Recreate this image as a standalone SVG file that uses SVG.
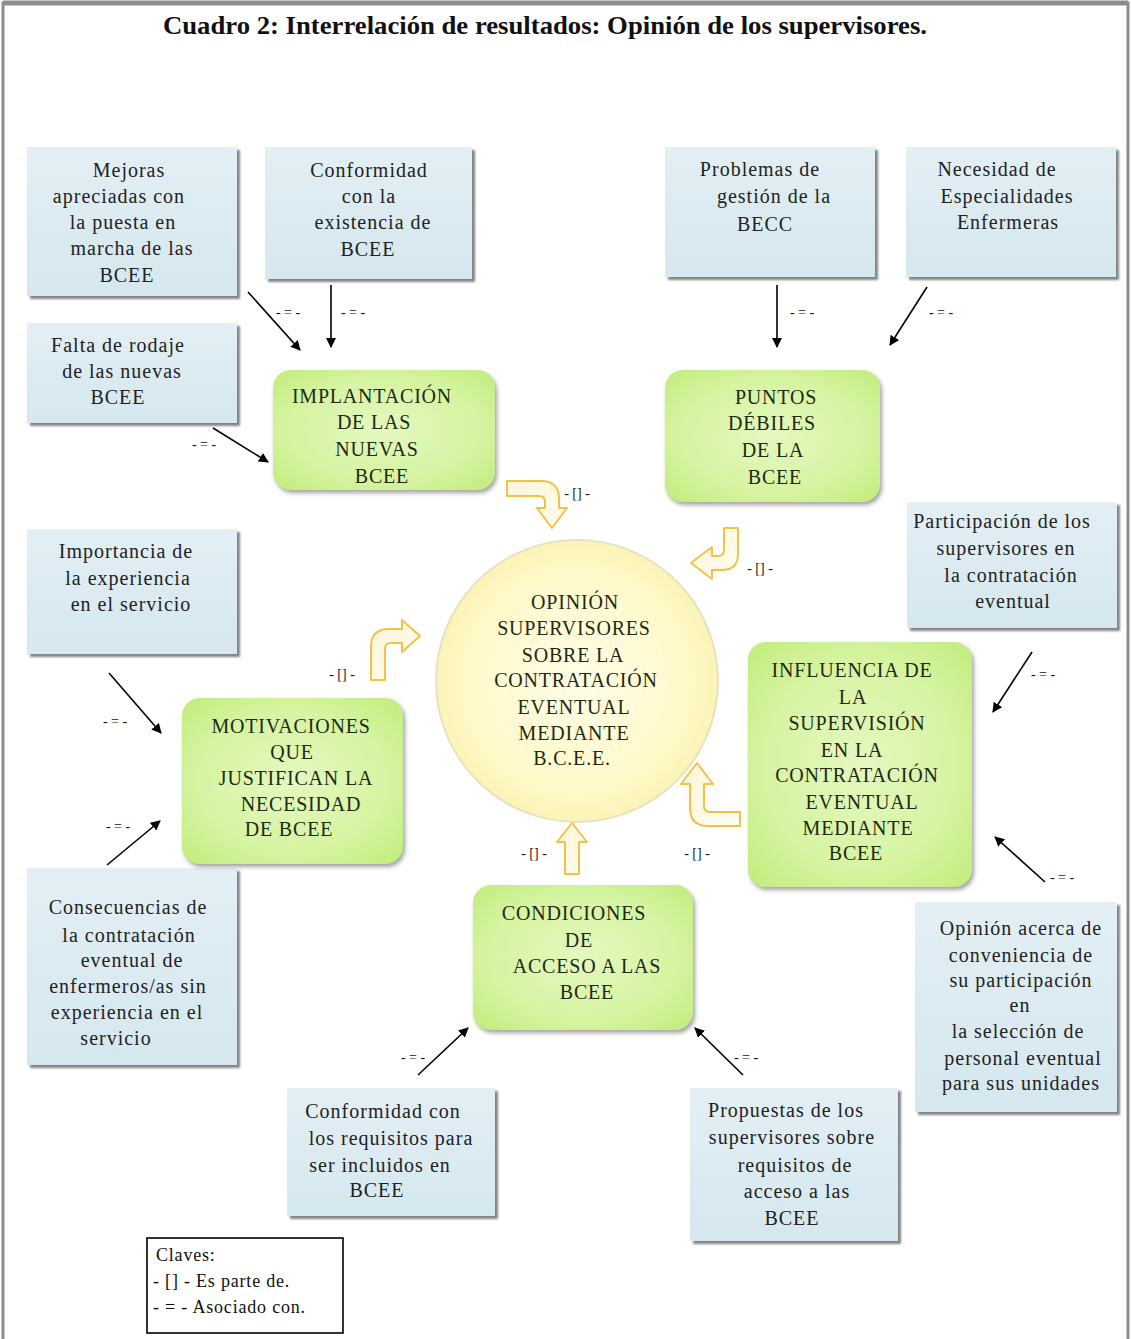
<svg xmlns="http://www.w3.org/2000/svg" width="1131" height="1339" viewBox="0 0 1131 1339">
<defs>
<linearGradient id="blueFill" x1="0" y1="0" x2="0" y2="1">
<stop offset="0" stop-color="#e3eff5"/>
<stop offset="1" stop-color="#d5e7ef"/>
</linearGradient>
<radialGradient id="greenFill" cx="0.5" cy="0.5" r="0.7">
<stop offset="0" stop-color="#e4f8c0"/>
<stop offset="0.6" stop-color="#d6f4a2"/>
<stop offset="1" stop-color="#c2ec7c"/>
</radialGradient>
<radialGradient id="circFill" cx="0.5" cy="0.5" r="0.5">
<stop offset="0" stop-color="#fffde8"/>
<stop offset="0.8" stop-color="#fff9c8"/>
<stop offset="1" stop-color="#fbf3b6"/>
</radialGradient>
<linearGradient id="yelFill" x1="0" y1="0" x2="1" y2="1">
<stop offset="0" stop-color="#fff6d8"/>
<stop offset="1" stop-color="#fffdf2"/>
</linearGradient>
<filter id="sh" x="-10%" y="-10%" width="125%" height="125%">
<feDropShadow dx="3" dy="3" stdDeviation="1.2" flood-color="#6e6e6e" flood-opacity="0.85"/>
</filter>
<filter id="shg" x="-10%" y="-10%" width="125%" height="125%">
<feDropShadow dx="2" dy="3" stdDeviation="2" flood-color="#7a7a7a" flood-opacity="0.7"/>
</filter>
<marker id="ah" viewBox="0 0 10 10" refX="9" refY="5" markerWidth="10" markerHeight="10" markerUnits="userSpaceOnUse" orient="auto">
<path d="M0,0 L10,5 L0,10 Z" fill="#000"/>
</marker>
</defs>
<style>
.t{font-family:"Liberation Serif","Times New Roman",serif;font-size:20px;letter-spacing:1px;fill:#222;text-anchor:middle}
.c{font-family:"Liberation Serif","Times New Roman",serif;font-size:20px;letter-spacing:0.8px;fill:#1e2a10;text-anchor:middle}
.l{font-family:"Liberation Serif","Times New Roman",serif;font-size:14px;fill:#111;text-anchor:middle}
.k{font-family:"Liberation Serif","Times New Roman",serif;font-size:18px;letter-spacing:0.8px;fill:#111}
.ttl{font-family:"Liberation Serif","Times New Roman",serif;font-size:25px;font-weight:bold;fill:#111}
.bx{fill:url(#blueFill);filter:url(#sh)}
.gb{fill:url(#greenFill);filter:url(#shg)}
.ln{stroke:#000;stroke-width:1.6;fill:none;marker-end:url(#ah)}
.ya{fill:url(#yelFill);stroke:#f1c24a;stroke-width:2;stroke-linejoin:round}
</style>
<rect x="0" y="0" width="1131" height="1339" fill="#fff"/>
<path d="M3,1339 V3 H1128 V1339" fill="none" stroke="#8c8c8c" stroke-width="3"/>
<line x1="3" y1="3" x2="1128" y2="3" stroke="#8c8c8c" stroke-width="5"/>
<text class="ttl" x="163" y="34" textLength="764" lengthAdjust="spacingAndGlyphs">Cuadro 2: Interrelación de resultados: Opinión de los supervisores.</text>

<g id="mejoras">
<rect class="bx" x="27" y="147" width="210" height="149"/>
<text class="t"><tspan x="129" y="177">Mejoras</tspan><tspan x="119" y="203">apreciadas con</tspan><tspan x="123" y="229">la puesta en</tspan><tspan x="132" y="255">marcha de las</tspan><tspan x="127" y="282">BCEE</tspan></text>
</g>
<g id="conformidad">
<rect class="bx" x="265" y="147" width="207" height="132"/>
<text class="t"><tspan x="369" y="177">Conformidad</tspan><tspan x="369" y="203">con la</tspan><tspan x="373" y="229">existencia de</tspan><tspan x="368" y="256">BCEE</tspan></text>
</g>
<g id="falta">
<rect class="bx" x="27" y="323" width="210" height="100"/>
<text class="t"><tspan x="118" y="352">Falta de rodaje</tspan><tspan x="122" y="378">de las nuevas</tspan><tspan x="118" y="404">BCEE</tspan></text>
</g>
<g id="problemas">
<rect class="bx" x="665" y="147" width="210" height="130"/>
<text class="t"><tspan x="760" y="176">Problemas de</tspan><tspan x="774" y="203">gestión de la</tspan><tspan x="765" y="231">BECC</tspan></text>
</g>
<g id="necesidad">
<rect class="bx" x="906" y="147" width="210" height="130"/>
<text class="t"><tspan x="997" y="176">Necesidad de</tspan><tspan x="1007" y="203">Especialidades</tspan><tspan x="1008" y="229">Enfermeras</tspan></text>
</g>
<g id="participacion">
<rect class="bx" x="907" y="502" width="210" height="126"/>
<text class="t"><tspan x="1002" y="528">Participación de los</tspan><tspan x="1006" y="555">supervisores en</tspan><tspan x="1011" y="582">la contratación</tspan><tspan x="1013" y="608">eventual</tspan></text>
</g>
<g id="importancia">
<rect class="bx" x="27" y="529" width="210" height="125"/>
<text class="t"><tspan x="126" y="558">Importancia de</tspan><tspan x="128" y="585">la experiencia</tspan><tspan x="131" y="611">en el servicio</tspan></text>
</g>
<g id="consecuencias">
<rect class="bx" x="27" y="868" width="210" height="197"/>
<text class="t"><tspan x="128" y="914">Consecuencias de</tspan><tspan x="129" y="942">la contratación</tspan><tspan x="132" y="967">eventual de</tspan><tspan x="128" y="993">enfermeros/as sin</tspan><tspan x="127" y="1019">experiencia en el</tspan><tspan x="116" y="1045">servicio</tspan></text>
</g>
<g id="opinion-acerca">
<rect class="bx" x="915" y="902" width="202" height="210"/>
<text class="t"><tspan x="1021" y="935">Opinión acerca de</tspan><tspan x="1021" y="962">conveniencia de</tspan><tspan x="1021" y="987">su participación</tspan><tspan x="1020" y="1012">en</tspan><tspan x="1018" y="1038">la selección de</tspan><tspan x="1023" y="1065">personal eventual</tspan><tspan x="1021" y="1090">para sus unidades</tspan></text>
</g>
<g id="conformidad-requisitos">
<rect class="bx" x="287" y="1088" width="208" height="128"/>
<text class="t"><tspan x="383" y="1118">Conformidad con</tspan><tspan x="391" y="1145">los requisitos para</tspan><tspan x="380" y="1172">ser incluidos en</tspan><tspan x="377" y="1197">BCEE</tspan></text>
</g>
<g id="propuestas">
<rect class="bx" x="690" y="1088" width="208" height="153"/>
<text class="t"><tspan x="786" y="1117">Propuestas de los</tspan><tspan x="792" y="1144">supervisores sobre</tspan><tspan x="795" y="1172">requisitos de</tspan><tspan x="797" y="1198">acceso a las</tspan><tspan x="792" y="1225">BCEE</tspan></text>
</g>

<g id="implantacion">
<rect class="gb" x="273" y="370" width="222" height="120" rx="18"/>
<text class="c"><tspan x="372" y="403">IMPLANTACIÓN</tspan><tspan x="374" y="429">DE LAS</tspan><tspan x="377" y="456">NUEVAS</tspan><tspan x="382" y="483">BCEE</tspan></text>
</g>
<g id="puntos-debiles">
<rect class="gb" x="665" y="370" width="215" height="132" rx="18"/>
<text class="c"><tspan x="776" y="404">PUNTOS</tspan><tspan x="772" y="430">DÉBILES</tspan><tspan x="773" y="457">DE LA</tspan><tspan x="775" y="484">BCEE</tspan></text>
</g>
<g id="motivaciones">
<rect class="gb" x="182" y="698" width="221" height="166" rx="18"/>
<text class="c"><tspan x="291" y="733">MOTIVACIONES</tspan><tspan x="292" y="759">QUE</tspan><tspan x="296" y="785">JUSTIFICAN LA</tspan><tspan x="301" y="811">NECESIDAD</tspan><tspan x="289" y="836">DE BCEE</tspan></text>
</g>
<g id="influencia">
<rect class="gb" x="748" y="642" width="224" height="245" rx="18"/>
<text class="c"><tspan x="852" y="677">INFLUENCIA DE</tspan><tspan x="853" y="704">LA</tspan><tspan x="857" y="730">SUPERVISIÓN</tspan><tspan x="852" y="757">EN LA</tspan><tspan x="857" y="782">CONTRATACIÓN</tspan><tspan x="862" y="809">EVENTUAL</tspan><tspan x="858" y="835">MEDIANTE</tspan><tspan x="856" y="860">BCEE</tspan></text>
</g>
<g id="condiciones">
<rect class="gb" x="473" y="885" width="220" height="145" rx="18"/>
<text class="c"><tspan x="574" y="920">CONDICIONES</tspan><tspan x="579" y="947">DE</tspan><tspan x="587" y="973">ACCESO A LAS</tspan><tspan x="587" y="999">BCEE</tspan></text>
</g>
<g id="opinion-supervisores">
<circle cx="577" cy="681" r="141" fill="url(#circFill)" stroke="#e6e2c2" stroke-width="2"/>
<text class="c"><tspan x="575" y="609">OPINIÓN</tspan><tspan x="574" y="635">SUPERVISORES</tspan><tspan x="573" y="662">SOBRE LA</tspan><tspan x="576" y="687">CONTRATACIÓN</tspan><tspan x="574" y="714">EVENTUAL</tspan><tspan x="574" y="740">MEDIANTE</tspan><tspan x="572" y="765">B.C.E.E.</tspan></text>
</g>

<g id="connectors">
<line class="ln" x1="248" y1="292" x2="300" y2="350"/>
<text class="l" x="288" y="317">- = -</text>
<line class="ln" x1="331" y1="285" x2="331" y2="347"/>
<text class="l" x="353" y="317">- = -</text>
<line class="ln" x1="213" y1="428" x2="268" y2="462"/>
<text class="l" x="204" y="449">- = -</text>
<line class="ln" x1="777" y1="285" x2="777" y2="347"/>
<text class="l" x="802" y="317">- = -</text>
<line class="ln" x1="927" y1="287" x2="890" y2="345"/>
<text class="l" x="941" y="317">- = -</text>
<line class="ln" x1="1032" y1="652" x2="993" y2="712"/>
<text class="l" x="1043" y="679">- = -</text>
<line class="ln" x1="1045" y1="882" x2="995" y2="837"/>
<text class="l" x="1062" y="882">- = -</text>
<line class="ln" x1="109" y1="673" x2="161" y2="733"/>
<text class="l" x="115" y="726">- = -</text>
<line class="ln" x1="107" y1="865" x2="160" y2="821"/>
<text class="l" x="118" y="831">- = -</text>
<line class="ln" x1="418" y1="1075" x2="468" y2="1028"/>
<text class="l" x="413" y="1062">- = -</text>
<line class="ln" x1="743" y1="1075" x2="695" y2="1028"/>
<text class="l" x="746" y="1062">- = -</text>

<path class="ya" d="M507,481 H541 Q559,481 559,499 V508 H567 L552,528 L537,508 H545 V502 Q545,496 539,496 H507 Z"/>
<text class="l" x="577" y="498">- [] -</text>
<path class="ya" d="M738,528 V554 Q738,570 722,570 H712 V579 L691,563 L712,547 V556 H718 Q724,556 724,550 V528 Z"/>
<text class="l" x="760" y="573">- [] -</text>
<path class="ya" d="M371,680 V647 Q371,629 389,629 H402 V620 L420,636 L402,652 V643 H391 Q385,643 385,649 V680 Z"/>
<text class="l" x="342" y="679">- [] -</text>
<path class="ya" d="M565,874 V842 H557 L572,823 L587,842 H579 V874 Z"/>
<text class="l" x="534" y="858">- [] -</text>
<path class="ya" d="M740,812 H710 Q704,812 704,806 V784 H713 L697,763 L681,784 H690 V808 Q690,826 708,826 H740 Z"/>
<text class="l" x="697" y="858">- [] -</text>
</g>

<g id="legend">
<rect x="147" y="1238" width="196" height="95" fill="#fff" stroke="#000" stroke-width="1.6"/>
<text class="k" x="156" y="1261">Claves:</text>
<text class="k" x="153" y="1287">- [] - Es parte  de.</text>
<text class="k" x="153" y="1313">- = - Asociado  con.</text>
</g>
</svg>
